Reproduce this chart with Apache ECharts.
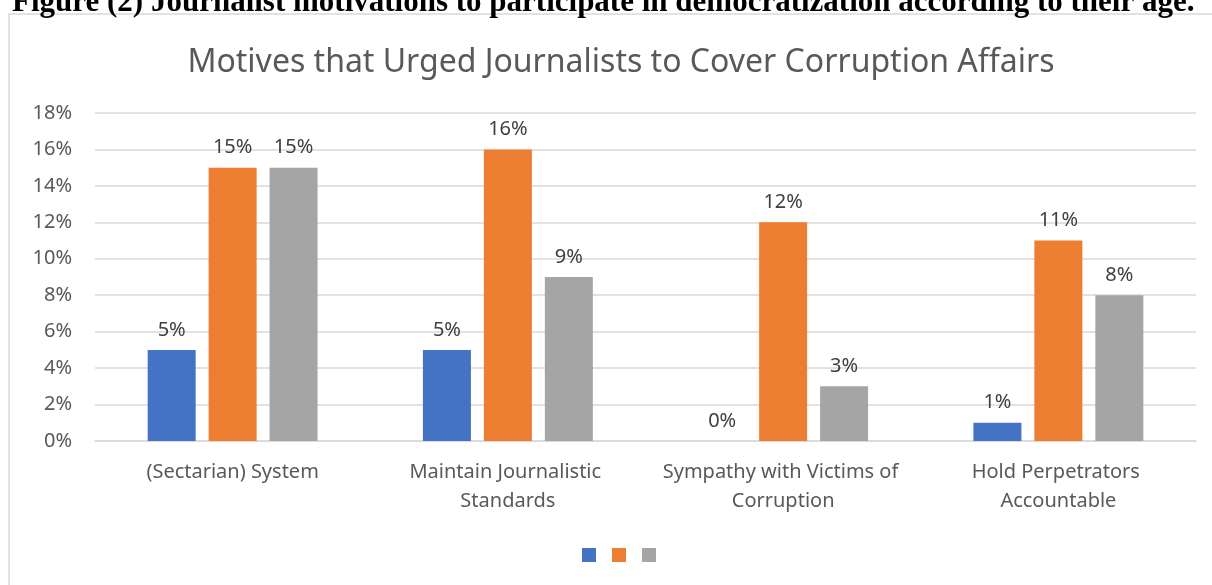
<!DOCTYPE html>
<html>
<head>
<meta charset="utf-8">
<script src="https://cdn.jsdelivr.net/npm/echarts@6/dist/echarts.min.js"></script>
<style>
  html, body { margin: 0; padding: 0; background: #fff; }
  #chart { width: 1212px; height: 585px; }
</style>
</head>
<body>
<div id="chart"></div>
<script>
var categories = ['(Sectarian) System', 'Maintain Journalistic Standards', 'Sympathy with Victims of Corruption', 'Hold Perpetrators Accountable'];
var seriesA = [5, 5, 0, 1];
var seriesB = [15, 16, 12, 11];
var seriesC = [15, 9, 3, 8];
var seriesNames = [' ', '  ', '   '];
var colors = ['#4472C4', '#ED7D31', '#A5A5A5'];

var caption = 'Figure (2) Journalist motivations to participate in democratization according to their age.';
var chartTitle = 'Motives that Urged Journalists to Cover Corruption Affairs';

var textFont = 'Noto Sans';

function makeSeries(name, data, color) {
    return {
        name: name,
        type: 'bar',
        data: data,
        barWidth: 48,
        barGap: '27%',
        itemStyle: { color: color },
        label: {
            show: true,
            position: 'top',
            distance: 10,
            formatter: '{c}%',
            color: '#404040',
            fontFamily: textFont,
            fontSize: 20
        }
    };
}

var myChart = echarts.init(document.getElementById('chart'));

var option = {
    animation: false,
    backgroundColor: '#fff',
    color: colors,
    title: {
        text: chartTitle,
        left: 616,
        top: 42,
        textAlign: 'center',
        textStyle: {
            fontFamily: textFont,
            fontSize: 32,
            fontWeight: 'normal',
            color: '#595959'
        }
    },
    graphic: [
        {
            type: 'rect',
            shape: { x: 9, y: 14, width: 1400, height: 800 },
            style: { fill: 'none', stroke: '#d9d9d9', lineWidth: 1.5 },
            z: -1
        },
        {
            type: 'text',
            x: 12,
            y: 18,
            style: {
                text: caption,
                font: 'bold 31px "Liberation Serif"',
                fill: '#000',
                verticalAlign: 'bottom'
            }
        }
    ],
    legend: {
        data: seriesNames,
        left: 577,
        top: 543,
        itemWidth: 14,
        itemHeight: 14,
        itemGap: 16,
        icon: 'rect',
        formatter: function() { return ''; },
        textStyle: { fontSize: 1 }
    },
    grid: {
        left: 95,
        right: 16,
        top: 113,
        bottom: 144
    },
    xAxis: {
        type: 'category',
        data: categories,
        axisTick: { show: false },
        axisLine: { lineStyle: { color: '#d9d9d9', width: 1.5 } },
        axisLabel: {
            interval: 0,
            margin: 17,
            width: 260,
            overflow: 'break',
            lineHeight: 29,
            fontFamily: textFont,
            fontSize: 20,
            color: '#595959'
        }
    },
    yAxis: {
        type: 'value',
        min: 0,
        max: 18,
        interval: 2,
        axisLine: { show: false },
        axisTick: { show: false },
        splitLine: { lineStyle: { color: '#d9d9d9', width: 1.5 } },
        axisLabel: {
            margin: 23,
            formatter: '{value}%',
            fontFamily: textFont,
            fontSize: 20,
            color: '#595959'
        }
    },
    series: [
        makeSeries(seriesNames[0], seriesA, colors[0]),
        makeSeries(seriesNames[1], seriesB, colors[1]),
        makeSeries(seriesNames[2], seriesC, colors[2])
    ]
};

myChart.setOption(option);
</script>
</body>
</html>
